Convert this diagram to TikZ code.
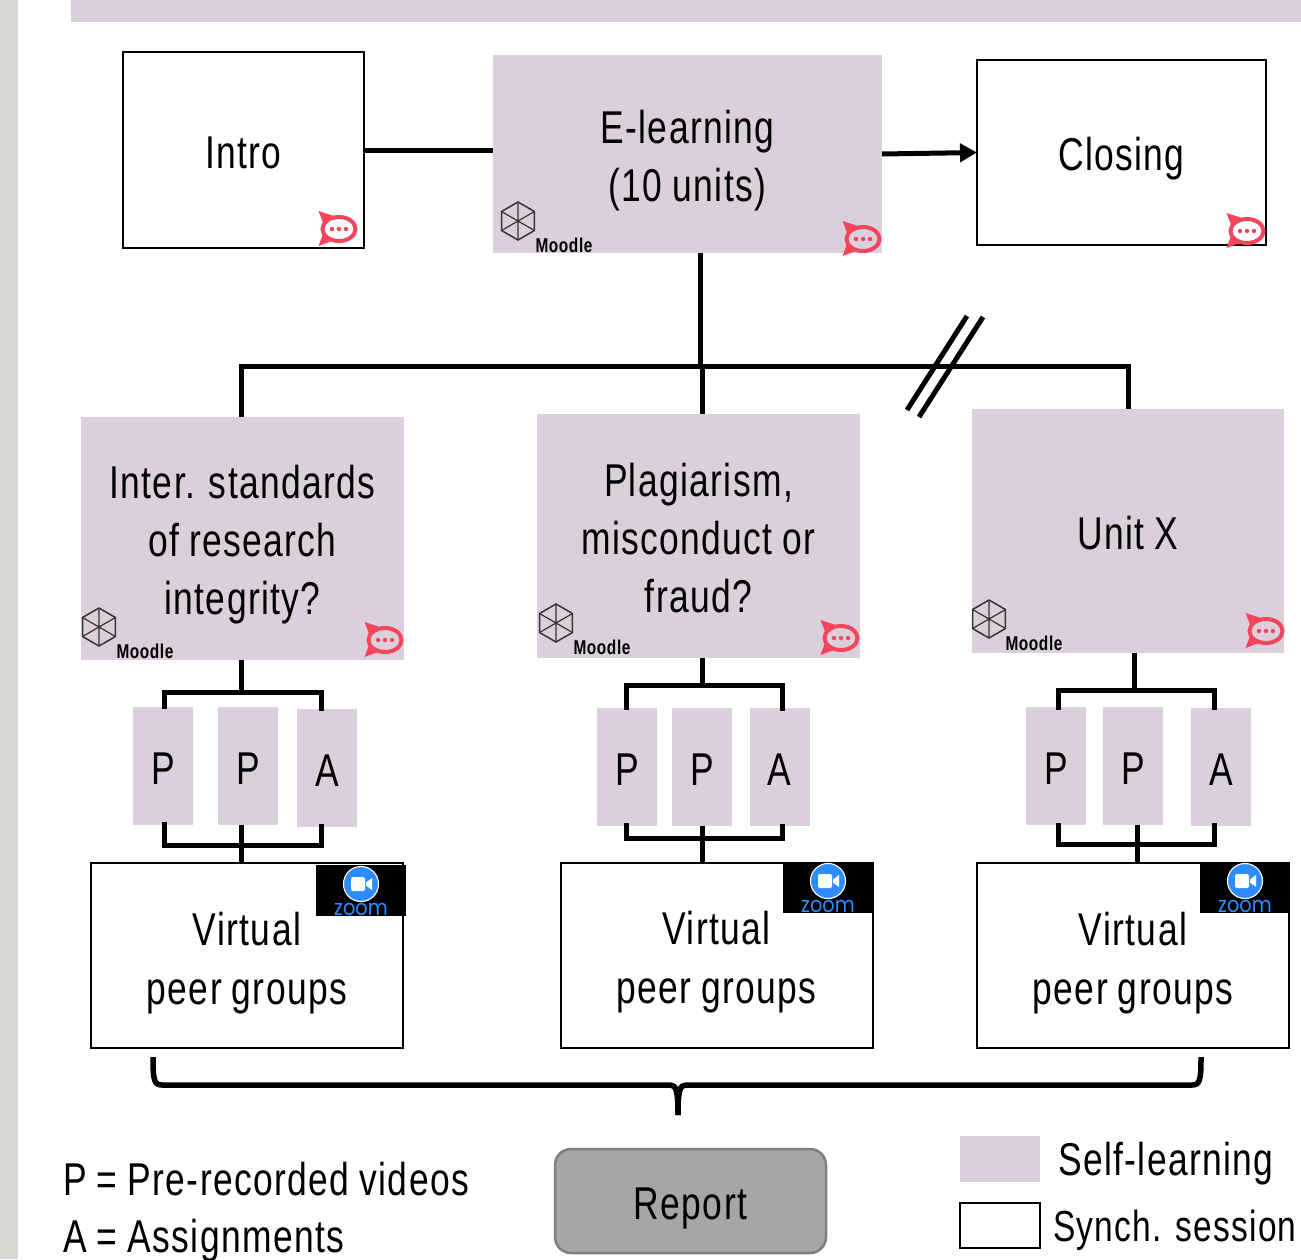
\documentclass[tikz,border=0pt]{standalone}
\usepackage{fontspec}
\setmainfont[FakeStretch=0.77,LetterSpace=3,WordSpace=0.9]{Liberation Sans}
\newfontfamily\zoomfont[FakeStretch=0.88]{Poppins}
\usepackage{xcolor}
\usetikzlibrary{positioning,arrows.meta}
\definecolor{lilac}{HTML}{DCCFDC}
\definecolor{bandgray}{HTML}{D8D9D4}
\definecolor{chatred}{HTML}{F5455C}
\definecolor{zoomblue}{HTML}{2D8CFF}
\definecolor{reportgray}{HTML}{A6A6A6}
\definecolor{reportedge}{HTML}{7F7F7F}
\newcommand{\bigfont}{\fontsize{46}{58}\selectfont}
\newcommand{\dropby}[1]{\rule{0pt}{\dimexpr 34pt+#1pt+#1pt\relax}}
\tikzset{
    selfbox/.style={fill=lilac, inner sep=0pt, outer sep=0pt, align=center, font=\bigfont, text=black},
    synchbox/.style={draw=black, line width=2pt, fill=white, inner sep=0pt, outer sep=0pt, align=center, font=\bigfont},
    link/.style={draw=black, line width=5pt},
    slash/.style={draw=black, line width=5pt},
    chatbubble/.pic={
        \draw[chatred, line width=4pt] (1,0) ellipse [x radius=16.5, y radius=12];
        \fill[chatred] (-19.5,-18) -- (-4,-13) -- (-14,-4) -- cycle;
        \fill[chatred] (-19.5,17) -- (-6,12) -- (-15,5) -- cycle;
        \fill[chatred] (-6,0) circle (2.2) (1,0) circle (2.2) (8,0) circle (2.2);
    },
    moodlehex/.pic={
        \draw[black!80, line width=1.5pt] (90:19) -- (30:19) -- (-30:19) -- (-90:19) -- (-150:19) -- (150:19) -- cycle;
        \draw[black!80, line width=1.2pt] (90:19) -- (-90:19) (30:19) -- (-150:19) (-30:19) -- (150:19);
    },
    zoombadge/.pic={
        \fill[black] (-45,-19) rectangle (45,32);
        \fill[zoomblue] (0,0) circle (17);
        \draw[white, line width=1.2pt] (0,0) circle (17.5);
        \fill[white, rounded corners=2pt] (-10,-7) rectangle (4,7);
        \fill[white] (5,-1.5) -- (11,-6) -- (11,6) -- (5,1.5) -- cycle;
        \node[text=zoomblue, font=\zoomfont\fontsize{22}{22}\selectfont, inner sep=0pt] at (0,25) {zoom};
    },
}
\begin{document}
\begin{tikzpicture}[x=1pt, y=-1pt,
                    moodlelabel/.style={anchor=center, inner sep=0pt, font=\fontsize{20}{20}\selectfont\bfseries},
                    letterbox/.style={selfbox, minimum width=60pt, minimum height=118pt},
                    virtualbox/.style={synchbox, minimum width=312pt, minimum height=185pt, font=\fontsize{46}{59}\selectfont},
                    keytext/.style={anchor=west, inner sep=0pt, font=\bigfont}]
    \useasboundingbox (0,0) rectangle (1301,1259);
    \fill[bandgray] (0,0) rectangle (18,1259);
    \fill[lilac] (71,0) rectangle (1301,22);

    \node[synchbox, minimum width=241pt, minimum height=196pt] (intro) at (243.5,150) {\dropby{2}Intro};
    \node[selfbox, minimum width=389pt, minimum height=198pt] (elearn) at (687.5,154) {\dropby{6}E-learning\\(10 units)};
    \node[synchbox, minimum width=289pt, minimum height=185pt] (closing) at (1121.5,152.5) {\dropby{6}Closing};

    \node[selfbox, minimum width=323pt, minimum height=243pt] (unitA) at (242.5,538.5) {\dropby{6}Inter. standards\\of research\\integrity?};
    \node[selfbox, minimum width=323pt, minimum height=244pt] (unitB) at (698.5,536) {\dropby{2}Plagiarism,\\misconduct or\\fraud?};
    \node[selfbox, minimum width=312pt, minimum height=244pt] (unitC) at (1128,531) {\dropby{1.5}Unit X};

    \node[letterbox] (pA1) at (163,765.5) {\dropby{1.5}P};
    \node[letterbox] (pA2) at (248,766) {\dropby{1.5}P};
    \node[letterbox] (pA3) at (327,767.5) {\dropby{1.5}A};
    \node[letterbox] (pB1) at (627,766.5) {\dropby{1.5}P};
    \node[letterbox] (pB2) at (702,766.5) {\dropby{1.5}P};
    \node[letterbox] (pB3) at (779.5,767) {\dropby{1.5}A};
    \node[letterbox] (pC1) at (1056,766) {\dropby{1.5}P};
    \node[letterbox] (pC2) at (1133,766) {\dropby{1.5}P};
    \node[letterbox] (pC3) at (1221,766.5) {\dropby{1.5}A};

    \node[virtualbox] (virtA) at (247,955.5) {\dropby{7}Virtual\\peer groups};
    \node[virtualbox] (virtB) at (716.5,955) {\dropby{7}Virtual\\peer groups};
    \node[virtualbox] (virtC) at (1133,955.5) {\dropby{7}Virtual\\peer groups};

    \coordinate (busL) at (241,366);
    \coordinate (busT) at (700,366);
    \coordinate (busM) at (702,366);
    \coordinate (busR) at (1128,366);
    \draw[link] (intro.east) -- (intro.east -| elearn.west);
    \draw[link, -{Triangle[length=17pt, width=18pt]}] (elearn.east) -- (closing.west);
    \draw[link] (elearn.south -| busT) -- (busT);
    \draw[link, line cap=rect] (busL) -- (busR);
    \draw[link] (busL) -- (busL |- unitA.north);
    \draw[link] (busM) -- (busM |- unitB.north);
    \draw[link] (busR) -- (busR |- unitC.north);

    \coordinate (slashA1) at (967,316);
    \coordinate (slashA2) at (907,410);
    \coordinate (slashB1) at (983,317);
    \coordinate (slashB2) at (919,417);
    \draw[slash] (slashA1) -- (slashA2);
    \draw[slash] (slashB1) -- (slashB2);

    \coordinate (topA) at (241,692);
    \coordinate (brA1) at (164,692);
    \coordinate (brA2) at (321,692);
    \coordinate (botA) at (241,845);
    \draw[link] (topA |- unitA.south) -- (topA);
    \draw[link, line cap=rect] (brA1 |- pA1.north) -- (brA1) -- (brA2) -- (brA2 |- pA3.north);
    \draw[link, line cap=rect] (brA1 |- pA1.south) -- (brA1 |- botA) -- (brA2 |- botA) -- (brA2 |- pA3.south);
    \draw[link] (botA |- pA2.south) -- (botA |- virtA.north);

    \coordinate (topB) at (702,685);
    \coordinate (brB1) at (626,685);
    \coordinate (brB2) at (782,685);
    \coordinate (botB) at (702,838);
    \draw[link] (topB |- unitB.south) -- (topB);
    \draw[link, line cap=rect] (brB1 |- pB1.north) -- (brB1) -- (brB2) -- (brB2 |- pB3.north);
    \draw[link, line cap=rect] (brB1 |- pB1.south) -- (brB1 |- botB) -- (brB2 |- botB) -- (brB2 |- pB3.south);
    \draw[link] (botB |- pB2.south) -- (botB |- virtB.north);

    \coordinate (topC) at (1134,690);
    \coordinate (brC1) at (1058,690);
    \coordinate (brC2) at (1214,690);
    \coordinate (botC) at (1137,844);
    \draw[link] (topC |- unitC.south) -- (topC);
    \draw[link, line cap=rect] (brC1 |- pC1.north) -- (brC1) -- (brC2) -- (brC2 |- pC3.north);
    \draw[link, line cap=rect] (brC1 |- pC1.south) -- (brC1 |- botC) -- (brC2 |- botC) -- (brC2 |- pC3.south);
    \draw[link] (botC |- pC2.south) -- (botC |- virtC.north);

    \coordinate (braceL) at (153,1057);
    \coordinate (braceR) at (1201,1057);
    \coordinate (braceTip) at (678,1115);
    \draw[link, line width=5.5pt] (braceL) .. controls (153,1080) and (154,1085) .. (162,1085) -- (670,1085)
        .. controls (676,1085) and (678,1090) .. (braceTip);
    \draw[link, line width=5.5pt] (braceR) .. controls (1201,1080) and (1200,1085) .. (1192,1085) -- (686,1085)
        .. controls (680,1085) and (678,1090) .. (braceTip);

    \pic at (338,229) {chatbubble};
    \pic at (862,239) {chatbubble};
    \pic at (1246,231) {chatbubble};
    \pic at (384,640) {chatbubble};
    \pic at (840,638) {chatbubble};
    \pic at (1265,631) {chatbubble};

    \pic at (518,221) {moodlehex};
    \pic at (99,627) {moodlehex};
    \pic at (556,623) {moodlehex};
    \pic at (989,619) {moodlehex};
    \node[moodlelabel] (moodleE) at (564,245) {Moodle};
    \node[moodlelabel] (moodleA) at (145,651) {Moodle};
    \node[moodlelabel] (moodleB) at (602,647) {Moodle};
    \node[moodlelabel] (moodleC) at (1034,643) {Moodle};

    \pic at (361,884) {zoombadge};
    \pic at (828,881) {zoombadge};
    \pic at (1245,881) {zoombadge};

    \node[draw=reportedge, line width=2.5pt, fill=reportgray, rounded corners=16pt, inner sep=0pt,
          minimum width=271pt, minimum height=104pt, font=\bigfont] (report) at (690.5,1201) {\dropby{6}Report};

    \node[keytext] (keyP) at (63,1179) {P = Pre-recorded videos};
    \node[keytext] (keyA) at (63,1241) {A = Assignments};
    \node[selfbox, minimum width=80pt, minimum height=46pt] (keySelf) at (1000,1159) {};
    \node[draw=black, line width=2pt, fill=white, inner sep=0pt, minimum width=80pt, minimum height=45pt] (keySynch) at (1000,1225.5) {};
    \node[keytext] (keySelfText) at (1058,1164) {Self-learning};
    \node[keytext, font=\fontsize{43.5}{58}\selectfont] (keySynchText) at (1053,1230) {Synch. session};
\end{tikzpicture}
\end{document}
